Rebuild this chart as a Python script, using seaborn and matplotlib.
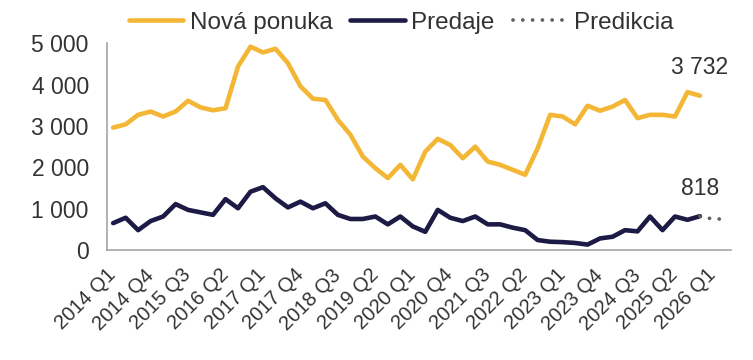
import pandas as pd
import matplotlib.pyplot as plt
import seaborn as sns
from matplotlib.ticker import FuncFormatter, FixedLocator

# quarterly categories 2014 Q1 .. 2026 Q2
years = range(2014, 2027)
quarters = [f"{y} Q{q}" for y in years for q in range(1, 5)][:50]

# Nová ponuka (new supply), 2014 Q1 .. 2025 Q4
nova_ponuka = [2960, 3040, 3270, 3350, 3230, 3350, 3610, 3450, 3380, 3430,
               4440, 4920, 4780, 4870, 4520, 3960, 3660, 3630, 3150, 2790,
               2260, 1980, 1740, 2060, 1710, 2380, 2690, 2540, 2220, 2500,
               2140, 2060, 1940, 1820, 2460, 3270, 3230, 3040, 3490, 3370,
               3470, 3630, 3190, 3270, 3270, 3230, 3820, 3732]

# Predaje (sales), 2014 Q1 .. 2025 Q4
predaje = [650, 780, 480, 700, 810, 1110, 970, 910, 850, 1230,
           1010, 1410, 1520, 1250, 1030, 1170, 1010, 1130, 850, 750,
           750, 810, 620, 810, 570, 440, 970, 780, 700, 810,
           620, 620, 540, 480, 240, 200, 190, 170, 130, 280,
           320, 480, 450, 810, 480, 810, 730, 818]

# Predikcia (forecast), 2025 Q4 .. 2026 Q2
predikcia = [818, 750, 750]

tick_labels = ["2014 Q1", "2014 Q4", "2015 Q3", "2016 Q2", "2017 Q1", "2017 Q4",
               "2018 Q3", "2019 Q2", "2020 Q1", "2020 Q4", "2021 Q3", "2022 Q2",
               "2023 Q1", "2023 Q4", "2024 Q3", "2025 Q2", "2026 Q1"]

df_n = pd.DataFrame({"x": range(len(nova_ponuka)), "y": nova_ponuka})
df_p = pd.DataFrame({"x": range(len(predaje)), "y": predaje})
start = len(predaje) - 1
df_f = pd.DataFrame({"x": range(start, start + len(predikcia)), "y": predikcia})

sns.set_theme(style="white")
plt.rcParams["font.family"] = ["Liberation Sans", "DejaVu Sans"]
text_c = "#333333"
axis_c = "#A6A6A6"
yellow = "#F4B635"
navy = "#1D1B45"
grey = "#5F5F5F"

fig = plt.figure(figsize=(7.53, 3.6), dpi=100)
ax = fig.add_axes([0.142, 0.3056, 0.829, 0.574])

sns.lineplot(data=df_n, x="x", y="y", color=yellow, lw=3.3, ax=ax,
             label="Nová ponuka", solid_capstyle="round", solid_joinstyle="round")
sns.lineplot(data=df_p, x="x", y="y", color=navy, lw=3.3, ax=ax,
             label="Predaje", solid_capstyle="round", solid_joinstyle="round")
sns.lineplot(data=df_f, x="x", y="y", color=grey, lw=2.7, ax=ax,
             label="Predikcia", linestyle=(0, (0.01, 2.6)), dash_capstyle="round")

ax.set_xlim(-0.5, len(quarters) - 0.5)
ax.set_ylim(0, 5000)
ax.set_xlabel(None)
ax.set_ylabel(None)

# labels every 3rd quarter, tick marks between categories
label_pos = [quarters.index(t) for t in tick_labels]
ax.xaxis.set_major_locator(FixedLocator(label_pos))
ax.set_xticklabels(tick_labels, rotation=45, ha="right", va="center",
                   rotation_mode="anchor", fontsize=14.5, color=text_c)
ax.xaxis.set_minor_locator(FixedLocator([i - 0.5 for i in range(len(quarters) + 1)]))
ax.tick_params(axis="x", which="major", length=0, pad=16)
ax.tick_params(axis="x", which="minor", length=4, width=1.2, color=axis_c, direction="out")

ax.set_yticks(range(0, 5001, 1000))
ax.yaxis.set_major_formatter(FuncFormatter(lambda v, p: f"{v:,.0f}".replace(",", " ")))
ax.tick_params(axis="y", length=5, width=1.2, color=axis_c, direction="out",
               labelsize=16.5, labelcolor=text_c, pad=8)

sns.despine(ax=ax)
for s in ["left", "bottom"]:
    ax.spines[s].set_color(axis_c)
    ax.spines[s].set_linewidth(1.2)

# end labels
for series in [nova_ponuka, predaje]:
    ax.annotate(f"{series[-1]:,}".replace(",", " "), (len(series) - 1, series[-1]),
                xytext=(0, 12), textcoords="offset points", ha="center", va="bottom",
                fontsize=16.5, color=text_c)

ax.legend(loc="center", bbox_to_anchor=(0.471, 1.1), ncol=3, frameon=False,
          fontsize=17.5, handlelength=2.25, columnspacing=0.75, handletextpad=0.25,
          labelcolor=text_c, borderaxespad=0)

fig.savefig("out.png", dpi=100)
